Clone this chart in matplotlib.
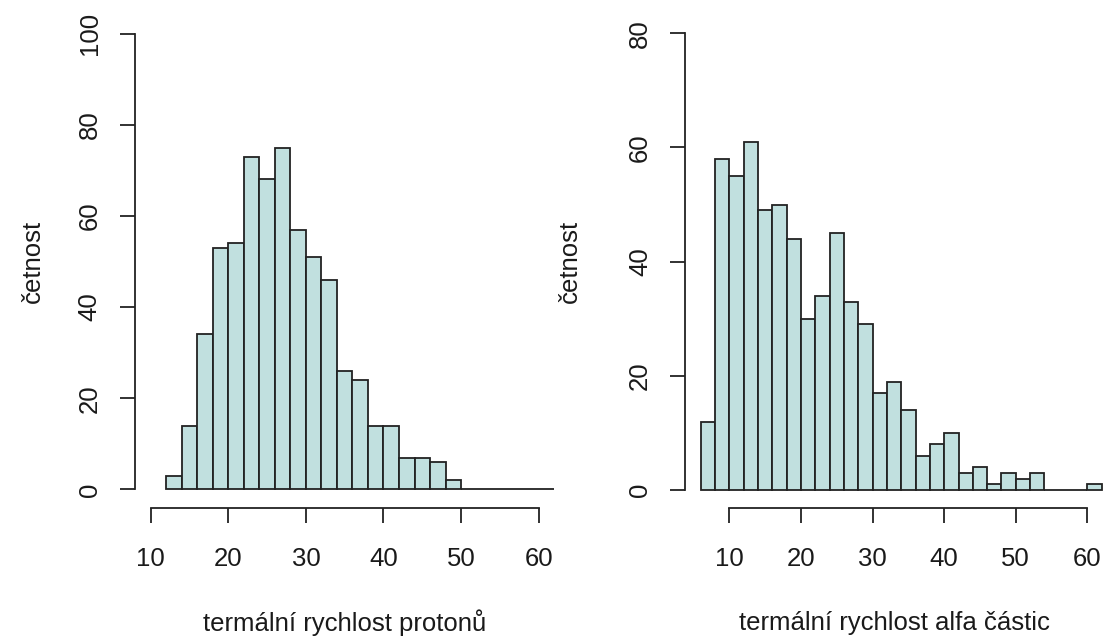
import numpy as np
import matplotlib
matplotlib.use("Agg")
import matplotlib.pyplot as plt

# Histogram bin edges and counts (2-unit bins)
proton_edges = list(range(12, 64, 2))
proton_counts = [3, 14, 34, 53, 54, 73, 68, 75, 57, 51, 46, 26, 24, 14, 14,
                 7, 7, 6, 2, 0, 0, 0, 0, 0, 0]

alpha_edges = list(range(6, 64, 2))
alpha_counts = [12, 58, 55, 61, 49, 50, 44, 30, 34, 45, 33, 29, 17, 19, 14,
                6, 8, 10, 3, 4, 1, 3, 2, 3, 0, 0, 0, 1]

x_ticks = [10, 20, 30, 40, 50, 60]
proton_yticks = [0, 20, 40, 60, 80, 100]
alpha_yticks = [0, 20, 40, 60, 80]

xlabel_protons = "termální rychlost protonů"
xlabel_alpha = "termální rychlost alfa částic"
ylabel = "četnost"

FILL = "#c1e0df"
EDGE = "#222222"
TEXT = "#1a1a1a"
FS = 18.5

plt.rcParams['font.family'] = ['Liberation Sans', 'DejaVu Sans']

W, H = 1111, 641
fig = plt.figure(figsize=(W / 100, H / 100), dpi=100)


def px_axes(x0, x1, y0, y1):
    # pixel box (top-left origin) -> figure fraction
    return fig.add_axes([x0 / W, 1 - y1 / H, (x1 - x0) / W, (y1 - y0) / H])


def draw_hist(ax, edges, counts, xlim, ylim, yticks, xlabel):
    e = np.asarray(edges, dtype=float)
    ax.bar(e[:-1], counts, width=np.diff(e), align='edge',
           color=FILL, edgecolor=EDGE, linewidth=1.3, clip_on=False)
    ax.set_xlim(*xlim)
    ax.set_ylim(*ylim)
    for s in ("top", "right"):
        ax.spines[s].set_visible(False)
    for s in ("left", "bottom"):
        ax.spines[s].set_color(EDGE)
        ax.spines[s].set_linewidth(1.3)
    ax.spines["bottom"].set_bounds(x_ticks[0], x_ticks[-1])
    ax.spines["left"].set_bounds(yticks[0], yticks[-1])
    ax.set_xticks(x_ticks)
    ax.set_xticklabels([str(t) for t in x_ticks])
    ax.set_yticks(yticks)
    ax.set_yticklabels([str(t) for t in yticks], rotation=90, va='center')
    ax.tick_params(axis='both', direction='out', length=11, width=1.3,
                   color=EDGE, labelsize=FS, labelcolor=TEXT)
    ax.tick_params(axis='x', pad=17)
    ax.tick_params(axis='y', pad=13)
    ax.set_xlabel(xlabel, fontsize=FS, color=TEXT)
    ax.set_ylabel(ylabel, fontsize=FS, color=TEXT)
    ax.patch.set_visible(False)


def place_labels(ax, xlab_y_px, ylab_x_px):
    # put the axis titles at fixed pixel positions
    bb = ax.get_position()
    ax_x0, ax_w = bb.x0 * W, bb.width * W
    ax_top = (1 - bb.y1) * H
    ax_h = bb.height * H
    ax.xaxis.set_label_coords(0.5, (ax_top + ax_h - xlab_y_px) / ax_h)
    ax.xaxis.label.set_va('center')
    ax.yaxis.set_label_coords((ylab_x_px - ax_x0) / ax_w, 0.5)
    ax.yaxis.label.set_va('center')


# Left panel: protons
ax1 = px_axes(135.2, 554.2, 15.3, 507.7)
draw_hist(ax1, proton_edges, proton_counts, (8, 62), (-4, 104),
          proton_yticks, xlabel_protons)
place_labels(ax1, 623, 33)

# Right panel: alpha particles
ax2 = px_axes(685.4, 1102.8, 15.0, 508.3)
draw_hist(ax2, alpha_edges, alpha_counts, (3.84, 62.16), (-3.2, 83.2),
          alpha_yticks, xlabel_alpha)
place_labels(ax2, 623, 570)

fig.savefig("out.png", dpi=100, facecolor="white")
